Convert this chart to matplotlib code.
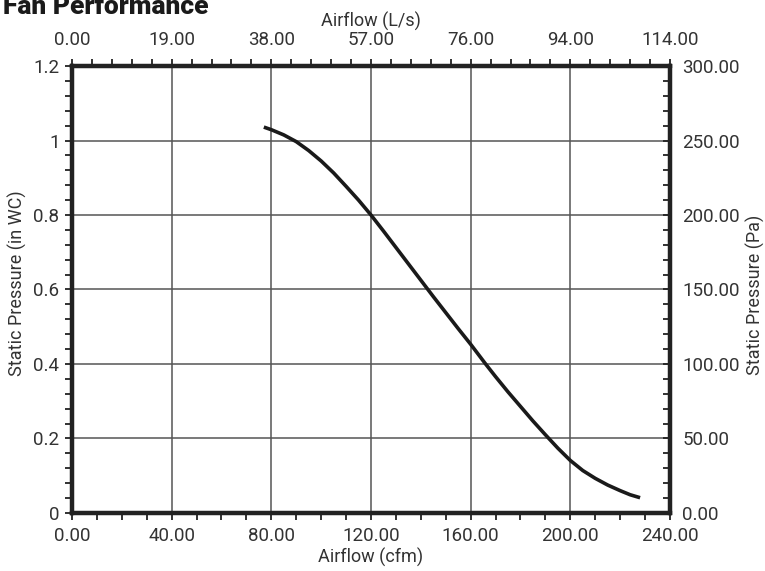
import matplotlib
matplotlib.use("Agg")
import matplotlib.pyplot as plt
import matplotlib.ticker as mticker

# Curva do ventilador
airflow_cfm = [77, 80, 85, 90, 95, 100, 105, 110, 115, 120, 125, 130, 135, 140, 145, 150, 155,
               160, 166, 170, 175, 180, 185, 190, 195, 200, 205, 210, 215, 220, 224, 228]
pressure_inwc = [1.036, 1.029, 1.015, 0.997, 0.973, 0.945, 0.913, 0.877, 0.840, 0.800, 0.757,
                 0.713, 0.669, 0.625, 0.581, 0.538, 0.495, 0.453, 0.400, 0.366, 0.325, 0.286,
                 0.247, 0.210, 0.174, 0.141, 0.114, 0.093, 0.075, 0.060, 0.049, 0.041]

bottom_ticks = [0, 40, 80, 120, 160, 200, 240]
bottom_labels = ["0.00", "40.00", "80.00", "120.00", "160.00", "200.00", "240.00"]
top_labels = ["0.00", "19.00", "38.00", "57.00", "76.00", "94.00", "114.00"]
left_ticks = [0, 0.2, 0.4, 0.6, 0.8, 1.0, 1.2]
left_labels = ["0", "0.2", "0.4", "0.6", "0.8", "1", "1.2"]
right_ticks = [0, 50, 100, 150, 200, 250, 300]
right_labels = ["0.00", "50.00", "100.00", "150.00", "200.00", "250.00", "300.00"]

TXT = "#333333"
LBL = 13
plt.rcParams.update({
    "font.family": ["Roboto", "DejaVu Sans"],
    "font.size": 12,
})

fig = plt.figure(figsize=(7.65, 5.71), dpi=100)
ax = fig.add_axes([0.0941, 0.1016, 0.7817, 0.7828])

ax.plot(airflow_cfm, pressure_inwc, color="#1a1a1a", linewidth=2.6, solid_capstyle="butt", zorder=5)

ax.set_xlim(0, 240)
ax.set_ylim(0, 1.2)
ax.set_xticks(bottom_ticks)
ax.set_xticklabels(bottom_labels)
ax.set_yticks(left_ticks)
ax.set_yticklabels(left_labels)
ax.xaxis.set_minor_locator(mticker.MultipleLocator(10))
ax.yaxis.set_minor_locator(mticker.MultipleLocator(0.04))
ax.grid(True, which="major", color="#555555", linewidth=1.1)
ax.set_axisbelow(True)
ax.tick_params(which="both", direction="out", length=5, width=1.3, color="#222222",
               labelcolor=TXT, labelsize=13.5)
ax.tick_params(axis="x", pad=5)
ax.tick_params(axis="y", pad=4)
ax.set_xlabel("Airflow (cfm)", color=TXT, fontsize=LBL, labelpad=2)
ax.set_ylabel("Static Pressure (in WC)", color=TXT, fontsize=LBL)
ax.yaxis.set_label_coords(-0.075, 0.515)

for s in ax.spines.values():
    s.set_linewidth(3)
    s.set_color("#222222")

# Eixo superior em L/s
axt = ax.twiny()
axt.set_xlim(0, 240)
axt.set_xticks(bottom_ticks)
axt.set_xticklabels(top_labels)
axt.xaxis.set_minor_locator(mticker.MultipleLocator(8))
axt.tick_params(which="both", direction="out", length=5, width=1.3, color="#222222",
                labelcolor=TXT, labelsize=13.5, pad=7)
axt.set_xlabel("Airflow (L/s)", color=TXT, fontsize=LBL, labelpad=3)

# Eixo direito em Pa
axr = ax.twinx()
axr.set_ylim(0, 300)
axr.set_yticks(right_ticks)
axr.set_yticklabels(right_labels)
axr.yaxis.set_minor_locator(mticker.MultipleLocator(10))
axr.tick_params(which="both", direction="in", length=5, width=1.3, color="#222222",
                labelcolor=TXT, labelsize=13.5, pad=9)
axr.set_ylabel("Static Pressure (Pa)", color=TXT, fontsize=LBL)
axr.yaxis.set_label_coords(1.126, 0.488)

for a in (axt, axr):
    for s in a.spines.values():
        s.set_linewidth(3)
        s.set_color("#222222")

fig.text(0.004, 0.9755, "Fan Performance", fontsize=19, fontweight="heavy",
         color="#1a1a1a", ha="left", va="baseline", fontstretch="condensed")

fig.savefig("out.png", dpi=100)
